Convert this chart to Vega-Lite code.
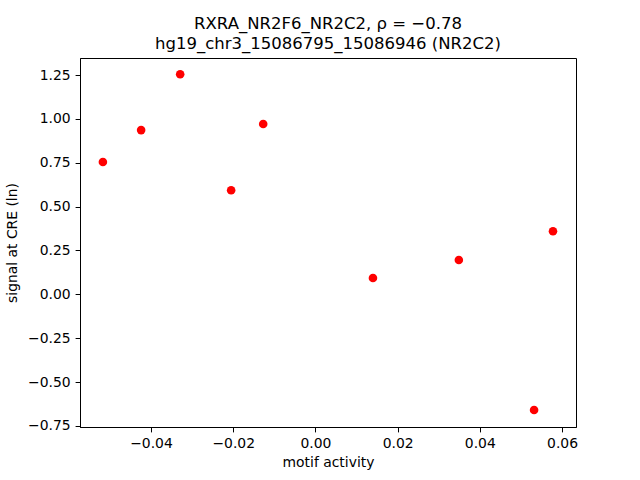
{
  "$schema": "https://vega.github.io/schema/vega-lite/v6.json",
  "width": 496,
  "height": 369,
  "autosize": {"type": "none"},
  "padding": {"left": 80, "top": 58, "right": 64, "bottom": 53},
  "background": "white",
  "title": {
    "text": ["RXRA_NR2F6_NR2C2, ρ = −0.78", "hg19_chr3_15086795_15086946 (NR2C2)"],
    "font": "DejaVu Sans",
    "fontSize": 16.5,
    "fontWeight": "normal",
    "color": "black",
    "anchor": "middle",
    "offset": 6,
    "lineHeight": 19.5
  },
  "config": {
    "view": {"stroke": "black", "strokeWidth": 1},
    "axis": {
      "grid": false,
      "domainColor": "black",
      "tickColor": "black",
      "tickSize": 4.9,
      "labelFont": "DejaVu Sans",
      "labelFontSize": 13.9,
      "labelColor": "black",
      "labelPadding": 4.9,
      "titleFont": "DejaVu Sans",
      "titleFontSize": 13.9,
      "titleFontWeight": "normal",
      "titleColor": "black"
    }
  },
  "data": {
    "values": [
      {"motif": -0.0517, "signal": 0.754},
      {"motif": -0.0424, "signal": 0.936},
      {"motif": -0.0329, "signal": 1.254},
      {"motif": -0.0205, "signal": 0.593},
      {"motif": -0.0127, "signal": 0.971},
      {"motif": 0.0140, "signal": 0.093},
      {"motif": 0.0349, "signal": 0.196},
      {"motif": 0.0532, "signal": -0.659},
      {"motif": 0.0578, "signal": 0.360}
    ]
  },
  "mark": {"type": "point", "filled": true, "shape": "circle", "size": 74, "color": "#ff0000", "opacity": 1},
  "encoding": {
    "x": {
      "field": "motif",
      "type": "quantitative",
      "scale": {"domain": [-0.05727, 0.0634], "nice": false, "zero": false},
      "axis": {"values": [-0.04, -0.02, 0, 0.02, 0.04, 0.06], "format": ".2f", "title": "motif activity", "titlePadding": 5}
    },
    "y": {
      "field": "signal",
      "type": "quantitative",
      "scale": {"domain": [-0.756, 1.347], "nice": false, "zero": false},
      "axis": {"values": [-0.75, -0.5, -0.25, 0, 0.25, 0.5, 0.75, 1, 1.25], "format": ".2f", "title": "signal at CRE (ln)", "titlePadding": 8}
    }
  }
}
